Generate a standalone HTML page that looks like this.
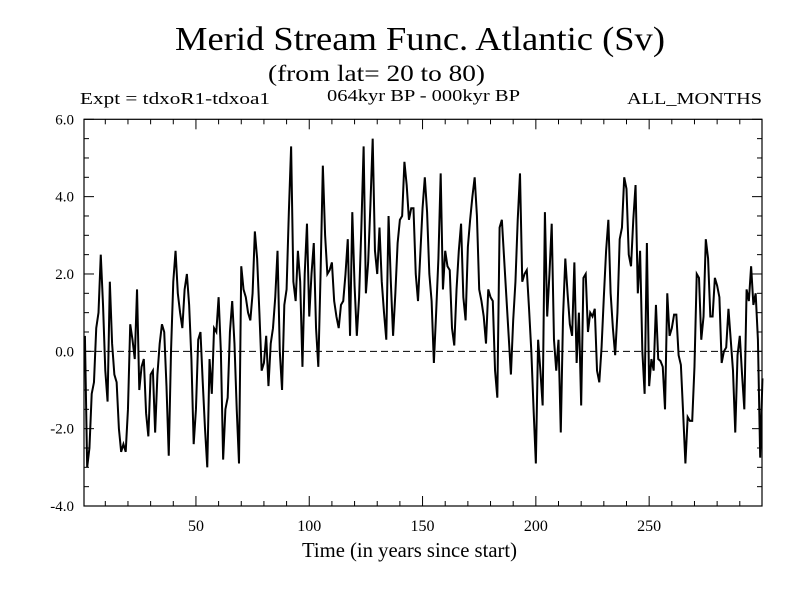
<!DOCTYPE html>
<html><head><meta charset="utf-8"><style>
html,body{margin:0;padding:0;background:#fff;}
svg text{font-family:"Liberation Serif",serif;fill:#000;}
</style></head><body>
<svg id="chart" width="800" height="600" viewBox="0 0 800 600" xmlns="http://www.w3.org/2000/svg">
<rect x="0" y="0" width="800" height="600" fill="#fff"/>
<text x="175" y="50" font-size="34" textLength="490" lengthAdjust="spacingAndGlyphs">Merid Stream Func. Atlantic (Sv)</text>
<text x="268" y="81" font-size="23" textLength="217" lengthAdjust="spacingAndGlyphs">(from lat= 20 to 80)</text>
<text x="80" y="104" font-size="17" textLength="190" lengthAdjust="spacingAndGlyphs">Expt = tdxoR1-tdxoa1</text>
<text x="327" y="101" font-size="17" textLength="193" lengthAdjust="spacingAndGlyphs">064kyr BP - 000kyr BP</text>
<text x="627" y="104" font-size="17" textLength="135" lengthAdjust="spacingAndGlyphs">ALL_MONTHS</text>
<text x="302" y="557" font-size="21" textLength="215" lengthAdjust="spacingAndGlyphs">Time (in years since start)</text>
<g id="axes"></g>
<g id="series"></g>
</svg>
<script>
const years = [];
const values = [
0.4,-3.0,-2.5,-1.1,-0.8,0.6,1.0,2.5,1.2,-0.5,
-1.3,1.8,0.2,-0.6,-0.8,-2.0,-2.6,-2.4,-2.6,-1.5,
0.7,0.3,-0.2,1.6,-1.0,-0.4,-0.2,-1.6,-2.2,-0.6,
-0.5,-2.1,-0.6,0.2,0.7,0.5,-0.9,-2.7,0.0,1.8,
2.6,1.5,1.0,0.6,1.6,2.0,1.2,-0.2,-2.4,-1.5,
0.3,0.5,-0.8,-2.0,-3.0,-0.2,-1.1,0.6,0.5,1.4,
0.0,-2.8,-1.5,-1.2,0.5,1.3,0.2,-1.5,-2.9,2.2,
1.6,1.4,1.0,0.8,1.5,3.1,2.4,1.0,-0.5,-0.3,
0.4,-0.9,0.2,0.6,1.4,2.6,0.0,-1.0,1.2,1.6,
3.6,5.3,1.8,1.3,2.6,1.8,-0.4,2.0,3.3,0.9,
2.0,2.8,0.6,-0.4,2.0,4.8,3.0,2.0,2.1,2.3,
1.3,0.9,0.6,1.2,1.3,2.0,2.9,0.4,3.6,1.7,
0.4,1.4,3.2,5.3,1.5,2.3,3.8,5.5,2.6,2.0,
3.2,1.8,1.0,0.3,3.5,1.8,0.4,1.5,2.8,3.4,
3.5,4.9,4.3,3.4,3.7,3.7,2.0,1.3,2.5,3.7,
4.5,3.6,2.0,1.3,-0.3,1.0,2.4,4.6,1.6,2.6,
2.2,2.1,0.6,0.15,1.6,2.6,3.3,1.4,0.8,2.7,
3.4,4.0,4.5,3.5,1.6,1.3,0.9,0.2,1.6,1.4,
1.3,-0.5,-1.2,3.2,3.4,2.4,1.4,0.4,-0.6,0.8,
1.8,3.4,4.6,1.8,2.0,2.1,1.1,0.0,-1.5,-2.9,
0.3,-0.5,-1.4,3.6,0.9,2.0,3.3,0.3,-0.5,0.3,
-2.1,0.9,2.4,1.5,0.7,0.4,2.3,-0.3,1.0,-1.4,
1.9,2.0,0.5,1.0,0.9,1.1,-0.5,-0.8,0.1,1.4,
2.6,3.4,1.5,0.6,-0.1,1.0,2.9,3.2,4.5,4.2,
2.5,2.2,3.4,4.3,1.5,2.6,0.0,-1.1,2.8,-0.9,
-0.2,-0.5,1.2,-0.2,-0.25,-0.4,-1.5,1.5,0.4,0.6,
0.95,0.95,-0.1,-0.35,-1.6,-2.9,-1.7,-1.8,-1.8,-0.4,
2.0,1.9,0.3,0.9,2.9,2.4,0.9,0.9,1.9,1.7,
1.4,-0.3,0.0,0.1,1.1,0.3,-0.5,-2.1,-0.1,0.4,
-0.6,-1.5,1.6,1.3,2.2,1.2,1.5,0.3,-2.75,-0.7
];
for (let i = 0; i < values.length; i++) years.push(i + 1);
const xTickValues = [50, 100, 150, 200, 250];
const xTickLabels = ["50", "100", "150", "200", "250"];
const yTickValues = [-4, -2, 0, 2, 4, 6];
const yTickLabels = ["-4.0", "-2.0", "0.0", "2.0", "4.0", "6.0"];

const L = 84, R = 762, T = 119.3, B = 506;
const X0 = 0.6, X1 = 299.8, Y0 = -4, Y1 = 6;
function sx(v){ return L + (v - X0) / (X1 - X0) * (R - L); }
function sy(v){ return B - (v - Y0) / (Y1 - Y0) * (B - T); }
const NS = "http://www.w3.org/2000/svg";
const axes = document.getElementById('axes');
const series = document.getElementById('series');
function mk(tag, attrs, parent){
  const e = document.createElementNS(NS, tag);
  for (const k in attrs) e.setAttribute(k, attrs[k]);
  parent.appendChild(e);
  return e;
}
const frame = mk('rect', {x:L, y:T, width:R-L, height:B-T, fill:'none', stroke:'#000', 'stroke-width':1.2}, axes);


const zero = mk('line', {x1:L, x2:R, y1:sy(0), y2:sy(0), stroke:'#000', 'stroke-width':1, 'stroke-dasharray':'7,4'}, axes);


// x ticks
for (let t = 10; t < 300; t += 10) {
  const x = sx(t);
  const len = (t % 50 === 0) ? 10 : 5;
  const tb = mk('line', {x1:x, x2:x, y1:B, y2:B-len, stroke:'#000', 'stroke-width':1}, axes);
  
  
  const tt = mk('line', {x1:x, x2:x, y1:T, y2:T+len, stroke:'#000', 'stroke-width':1}, axes);
  
  
}
xTickValues.forEach((v, i) => {
  const tx = mk('text', {x:sx(v), y:531, 'font-size':16, 'text-anchor':'middle'}, axes);
  tx.textContent = xTickLabels[i];
  
  
});
// y ticks
for (let k = 0; k <= 20; k++) {
  const v = Y0 + k * 0.5;
  const y = sy(v);
  const len = (k % 4 === 0) ? 10 : 5;
  const tl = mk('line', {x1:L, x2:L+len, y1:y, y2:y, stroke:'#000', 'stroke-width':1}, axes);
  
  
  const tr = mk('line', {x1:R, x2:R-len, y1:y, y2:y, stroke:'#000', 'stroke-width':1}, axes);
  
  
}
yTickValues.forEach((v, i) => {
  const ty = mk('text', {x:74, y:sy(v)+5, 'font-size':15, 'text-anchor':'end'}, axes);
  ty.textContent = yTickLabels[i];
  
  
});
// series line
let d = '';
for (let i = 0; i < values.length; i++) {
  d += (i ? 'L' : 'M') + sx(years[i]).toFixed(2) + ',' + sy(values[i]).toFixed(2);
}
const line = mk('path', {d:d, fill:'none', stroke:'#000', 'stroke-width':2, 'stroke-linejoin':'miter'}, series);


</script>
</body></html>
